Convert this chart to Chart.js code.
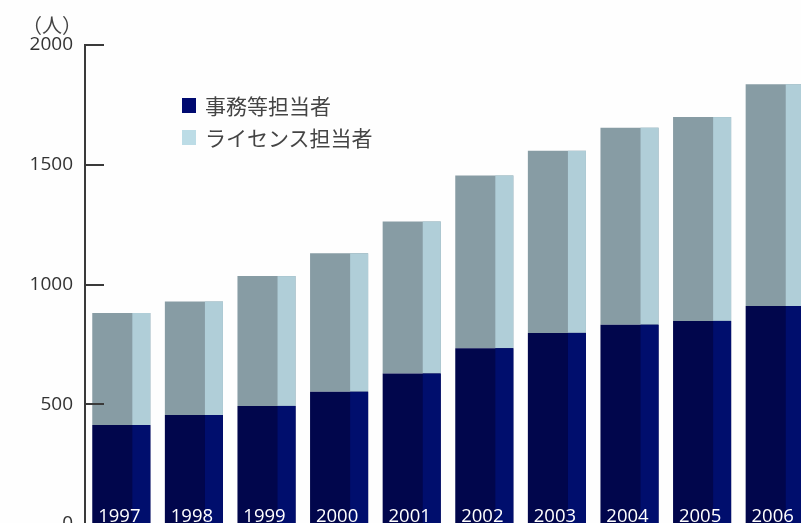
<!DOCTYPE html>
<html lang="ja">
<head>
<meta charset="utf-8">
<title>担当者数の推移</title>
<script src="https://cdn.jsdelivr.net/npm/chart.js@4/dist/chart.umd.min.js"></script>
<style>
  html, body { margin: 0; padding: 0; background: #fefefe; overflow: hidden; }
  #wrap { position: relative; width: 812px; height: 560px; }
  #unit {
    position: absolute; left: 22px; top: 10px;
    font: 20px "Noto Sans CJK JP", sans-serif; color: #444;
  }
  #legend { position: absolute; left: 182px; top: 89px; }
  .item {
    display: flex; align-items: center; height: 32px; line-height: 32px;
    font: 21px/32px "Noto Sans CJK JP", sans-serif; color: #444;
  }
  .box { width: 14px; height: 15px; margin-right: 9px; }
</style>
</head>
<body>
<div id="wrap">
  <canvas id="staffChart"></canvas>
  <div id="unit">（人）</div>
  <div id="legend"></div>
</div>
<script>
const years = ["1997", "1998", "1999", "2000", "2001", "2002", "2003", "2004", "2005", "2006"];
const officeStaff = [413, 455, 493, 552, 628, 734, 798, 832, 848, 910];
const licenseStaff = [468, 474, 542, 578, 635, 721, 760, 823, 851, 926];
const yTicks = [0, 500, 1000, 1500, 2000];

const seriesNames = ["事務等担当者", "ライセンス担当者"];
const frontColors = ["#01064c", "#879ca4"];
const sideColors = ["#000e6d", "#b0ced8"];
const legendColors = ["#000a70", "#bcdce6"];

const axisColor = "#3a3a3a";

// paints the right-hand side face of every bar to give the 3D look
const sideFaces = {
  id: "sideFaces",
  afterDatasetDraw(chart, args) {
    const ctx = chart.ctx;
    const meta = args.meta;
    ctx.save();
    ctx.fillStyle = sideColors[args.index];
    meta.data.forEach(bar => {
      const right = bar.x + bar.width / 2;
      const sideW = bar.width * 0.31;
      ctx.fillRect(right - sideW, bar.y, sideW, bar.base - bar.y);
    });
    ctx.restore();
  }
};

// year labels inside the bar foot, plus the inward tick marks
const decorations = {
  id: "decorations",
  afterDatasetsDraw(chart) {
    const ctx = chart.ctx;
    const yScale = chart.scales.y;
    const xScale = chart.scales.x;
    const left = chart.chartArea.left;

    ctx.save();
    ctx.fillStyle = "#ffffff";
    ctx.font = '18.5px "Open Sans", sans-serif';
    ctx.textAlign = "center";
    ctx.textBaseline = "alphabetic";
    years.forEach((year, i) => {
      ctx.fillText(year, xScale.getPixelForValue(i) - 2, yScale.getPixelForValue(0) - 2);
    });

    ctx.strokeStyle = axisColor;
    ctx.lineWidth = 2;
    yTicks.forEach(v => {
      const py = Math.round(yScale.getPixelForValue(v));
      ctx.beginPath();
      ctx.moveTo(left, py);
      ctx.lineTo(left + 19, py);
      ctx.stroke();
    });
    ctx.restore();
  }
};

const ctx = document.getElementById("staffChart").getContext("2d");

const chart = new Chart(ctx, {
  type: "bar",
  data: {
    labels: years,
    datasets: [
      { label: seriesNames[0], data: officeStaff, backgroundColor: frontColors[0] },
      { label: seriesNames[1], data: licenseStaff, backgroundColor: frontColors[1] }
    ]
  },
  options: {
    responsive: true,
    maintainAspectRatio: false,
    animation: false,
    layout: { padding: { top: 45, bottom: 36, left: 0, right: 1 } },
    datasets: {
      bar: { categoryPercentage: 1, barPercentage: 0.8, borderWidth: 0 }
    },
    plugins: {
      legend: { display: false },
      tooltip: { enabled: false }
    },
    scales: {
      x: { stacked: true, display: false },
      y: {
        stacked: true,
        min: 0,
        max: 2000,
        afterBuildTicks: scale => {
          scale.ticks = yTicks.map(v => ({ value: v }));
        },
        afterFit: scale => { scale.width = 85; },
        border: { display: true, color: axisColor, width: 2 },
        grid: { display: false, drawTicks: false },
        ticks: {
          padding: 12,
          color: "#333",
          font: { family: "Open Sans", size: 19 },
          callback: v => String(v)
        }
      }
    }
  },
  plugins: [sideFaces, decorations]
});

// legend built from the dataset names
const legend = document.getElementById("legend");
chart.data.datasets.forEach((ds, i) => {
  const item = document.createElement("div");
  item.className = "item";
  item.innerHTML = `<span class="box" style="background:${legendColors[i]}"></span>${ds.label}`;
  legend.appendChild(item);
});
</script>
</body>
</html>
